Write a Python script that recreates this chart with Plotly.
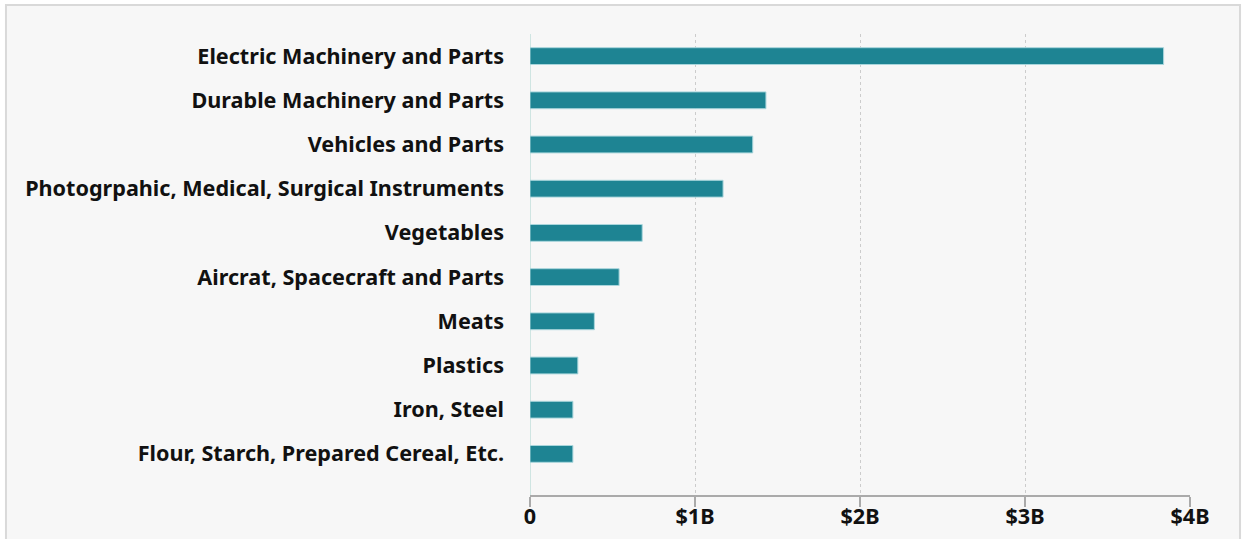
import plotly.graph_objects as go

categories = [
    "Electric Machinery and Parts",
    "Durable Machinery and Parts",
    "Vehicles and Parts",
    "Photogrpahic, Medical, Surgical Instruments",
    "Vegetables",
    "Aircrat, Spacecraft and Parts",
    "Meats",
    "Plastics",
    "Iron, Steel",
    "Flour, Starch, Prepared Cereal, Etc.",
]
values_b = [3.84, 1.43, 1.35, 1.17, 0.68, 0.54, 0.39, 0.29, 0.26, 0.26]
tick_vals = [0, 1, 2, 3, 4]
tick_text = ["0", "$1B", "$2B", "$3B", "$4B"]

fig = go.Figure(go.Bar(
    x=values_b, y=categories, orientation="h",
    marker=dict(color="#1e8493", line=dict(color="#a9d6dc", width=1)),
    width=0.38,
))

font_fam = "Noto Sans, Open Sans, sans-serif"
fs = 21.6
fig.update_layout(
    width=1244, height=539,
    margin=dict(l=530, r=54, t=34, b=44, autoexpand=False),
    paper_bgcolor="white", plot_bgcolor="rgba(0,0,0,0)",
    showlegend=False,
    font=dict(family=font_fam, size=fs, color="#111"),
    xaxis=dict(
        range=[0, 4.0], tickvals=tick_vals, ticktext=tick_text,
        showgrid=True, gridcolor="#cccccc", griddash="dot", gridwidth=1,
        zeroline=False, showline=True, linecolor="#aaaaaa", linewidth=2,
        ticks="outside", ticklen=10, tickcolor="#aaaaaa", tickwidth=2,
        ticklabelstandoff=-9,
        tickfont=dict(family=font_fam, size=fs, color="#111", weight="bold"),
        automargin=False, fixedrange=True,
    ),
    yaxis=dict(
        categoryorder="array", categoryarray=categories[::-1],
        range=[-0.93, 9.5], showgrid=False, zeroline=False, showline=False,
        ticks="", ticklabelstandoff=25, automargin=False, fixedrange=True,
        tickfont=dict(family=font_fam, size=fs, color="#111", weight="bold"),
    ),
    shapes=[
        dict(type="rect", xref="paper", yref="paper",
             x0=-0.794, x1=1.0758, y0=-0.15, y1=1.063,
             fillcolor="#f7f7f7", line=dict(color="#d9d9d9", width=2), layer="below"),
        dict(type="line", xref="x", yref="paper", x0=0, x1=0, y0=0, y1=1,
             line=dict(color="#cfe5e2", width=2), layer="below"),
    ],
)

fig.write_html("out.html", config={"displayModeBar": False},
               post_script="document.body.style.margin='0';")
